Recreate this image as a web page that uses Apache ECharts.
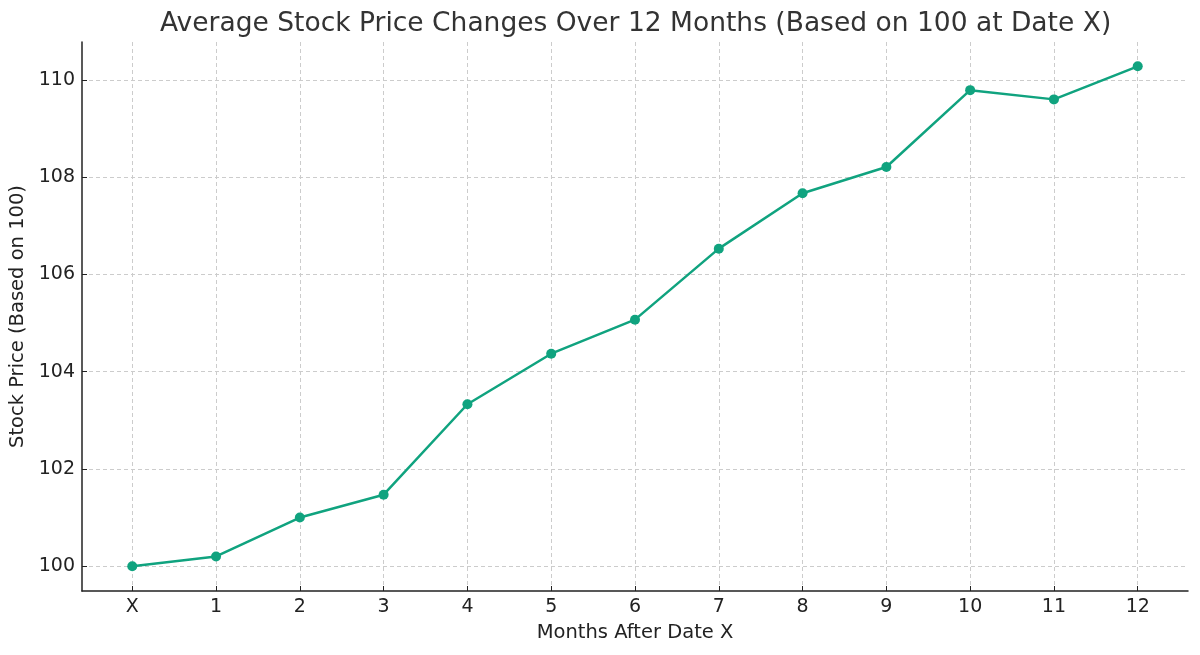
<!DOCTYPE html>
<html lang="en">
<head>
    <meta charset="UTF-8"/>
    <title>echarts</title>
    <script src="https://cdn.jsdelivr.net/npm/echarts@6/dist/echarts.min.js"></script>
    <style>
        html, body { margin: 0; padding: 0; background: #fff; }
    </style>
</head>
<body>
<div id="main" style="width: 1200px;height:655px;"></div>
<script type="text/javascript">
    // months after date X (0 = X)
    var months = [0, 1, 2, 3, 4, 5, 6, 7, 8, 9, 10, 11, 12];
    var monthLabels = ['X', '1', '2', '3', '4', '5', '6', '7', '8', '9', '10', '11', '12'];
    var prices = [100.0, 100.2, 101.0, 101.47, 103.33, 104.37, 105.07, 106.53, 107.67, 108.21, 109.79, 109.6, 110.28];
    var yTicks = [100, 102, 104, 106, 108, 110];

    var myChart = echarts.init(document.getElementById('main'));

    var font = 'DejaVu Sans';
    var gridLine = {show: true, lineStyle: {color: '#cccccc', type: [4, 3], width: 1}};

    var option = {
        animation: false,
        textStyle: {fontFamily: font},
        title: {
            // centred over the plot area, not the page
            text: 'Average Stock Price Changes Over 12 Months (Based on 100 at Date X)',
            left: 155,
            top: 6,
            textStyle: {fontFamily: font, fontSize: 26.5, fontWeight: 'normal', color: '#333333'}
        },
        grid: {left: 82, right: 12, top: 42, bottom: 64, outerBoundsMode: 'none'},
        xAxis: {
            type: 'value',
            min: -0.6,
            max: 12.6,
            name: 'Months After Date X',
            nameLocation: 'middle',
            nameGap: 32,
            nameTextStyle: {fontFamily: font, fontSize: 19.5, color: '#222'},
            axisLine: {show: true, onZero: false, lineStyle: {color: '#222', width: 1.5}},
            axisTick: {show: true, inside: true, length: 5, customValues: months, lineStyle: {color: '#222'}},
            axisLabel: {
                customValues: months,
                fontSize: 19, color: '#222', margin: 7,
                formatter: function (v) { return monthLabels[months.indexOf(Math.round(v))]; }
            },
            splitLine: gridLine
        },
        yAxis: {
            type: 'value',
            min: 99.49,
            max: 110.78,
            name: 'Stock Price (Based on 100)',
            nameLocation: 'middle',
            nameGap: 50,
            nameTextStyle: {fontFamily: font, fontSize: 19.5, color: '#222'},
            axisLine: {show: true, onZero: false, lineStyle: {color: '#222', width: 1.5}},
            axisTick: {show: true, inside: true, length: 5, customValues: yTicks, lineStyle: {color: '#222'}},
            axisLabel: {customValues: yTicks, fontSize: 19, color: '#222', margin: 7},
            splitLine: gridLine
        },
        series: [
            {
                type: 'line',
                data: months.map(function (m, i) { return [m, prices[i]]; }),
                symbol: 'circle',
                symbolSize: 10,
                lineStyle: {color: '#10a37f', width: 2.5},
                itemStyle: {color: '#10a37f'}
            }
        ]
    };

    myChart.setOption(option);
</script>
</body>
</html>
